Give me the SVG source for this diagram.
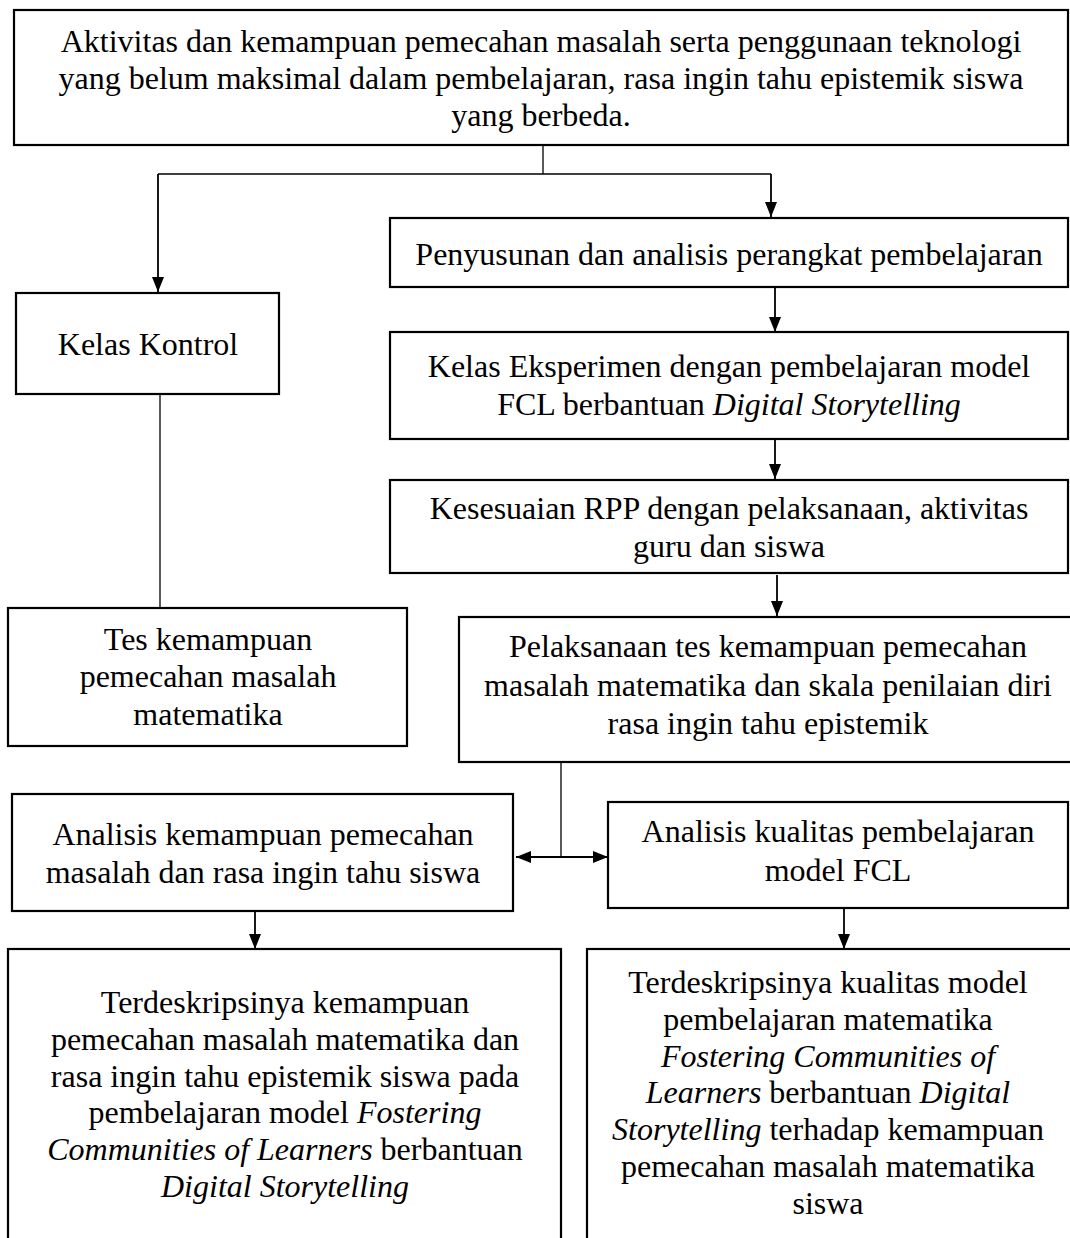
<svg xmlns="http://www.w3.org/2000/svg" width="1070" height="1238" viewBox="0 0 1070 1238">
<style>
.box{fill:#fff;stroke:#000;stroke-width:2.2}
.t{font-family:"Liberation Serif","Times New Roman",serif;font-size:32px;fill:#000;text-anchor:middle}
.i{font-style:italic}
.ln{fill:none;stroke:#000;stroke-width:1.3}
.ar{fill:none;stroke:#000;stroke-width:1.8}
</style>
<defs>
<marker id="ah" markerUnits="userSpaceOnUse" markerWidth="16" markerHeight="12" refX="15" refY="6" orient="auto">
<path d="M0,0 L15,6 L0,12 Z" fill="#000"/>
</marker>
<marker id="ahs" markerUnits="userSpaceOnUse" markerWidth="16" markerHeight="12" refX="0" refY="6" orient="auto">
<path d="M15,0 L0,6 L15,12 Z" fill="#000"/>
</marker>
</defs>

<g id="connectors">
<path class="ln" d="M543,145 V174 M158,174 H771"/>
<path class="ar" d="M158,174 V292" marker-end="url(#ah)"/>
<path class="ar" d="M771,174 V217" marker-end="url(#ah)"/>
<path class="ar" d="M775,288 V332" marker-end="url(#ah)"/>
<path class="ar" d="M775,439 V479" marker-end="url(#ah)"/>
<path class="ar" d="M777,575 V616" marker-end="url(#ah)"/>
<path class="ln" d="M160,394 V607"/>
<path class="ln" d="M561,763 V857"/>
<path class="ar" d="M516,857 H608" stroke-width="2.2" marker-start="url(#ahs)" marker-end="url(#ah)"/>
<path class="ar" d="M255,912 V949" marker-end="url(#ah)"/>
<path class="ar" d="M844,908 V949" marker-end="url(#ah)"/>
</g>

<g id="n-problem">
<rect class="box" x="14" y="10" width="1054" height="135"/>
<text class="t" x="541" y="52">Aktivitas dan kemampuan pemecahan masalah serta penggunaan teknologi</text>
<text class="t" x="541" y="89">yang belum maksimal dalam pembelajaran, rasa ingin tahu epistemik siswa</text>
<text class="t" x="541" y="126">yang berbeda.</text>
</g>

<g id="n-penyusunan">
<rect class="box" x="390" y="218" width="678" height="69"/>
<text class="t" x="729" y="265">Penyusunan dan analisis perangkat pembelajaran</text>
</g>

<g id="n-kontrol">
<rect class="box" x="16" y="293" width="263" height="101"/>
<text class="t" x="148" y="355">Kelas Kontrol</text>
</g>

<g id="n-eksperimen">
<rect class="box" x="390" y="332" width="678" height="107"/>
<text class="t" x="729" y="377">Kelas Eksperimen dengan pembelajaran model</text>
<text class="t" x="729" y="415">FCL berbantuan <tspan class="i">Digital Storytelling</tspan></text>
</g>

<g id="n-kesesuaian">
<rect class="box" x="390" y="480" width="678" height="93"/>
<text class="t" x="729" y="519">Kesesuaian RPP dengan pelaksanaan, aktivitas</text>
<text class="t" x="729" y="557">guru dan siswa</text>
</g>

<g id="n-tes">
<rect class="box" x="8" y="608" width="399" height="138"/>
<text class="t" x="208" y="650">Tes kemampuan</text>
<text class="t" x="208" y="687">pemecahan masalah</text>
<text class="t" x="208" y="725">matematika</text>
</g>

<g id="n-pelaksanaan">
<rect class="box" x="459" y="617" width="620" height="145"/>
<text class="t" x="768" y="657">Pelaksanaan tes kemampuan pemecahan</text>
<text class="t" x="768" y="696">masalah matematika dan skala penilaian diri</text>
<text class="t" x="768" y="734">rasa ingin tahu epistemik</text>
</g>

<g id="n-analisis-kemampuan">
<rect class="box" x="12" y="794" width="501" height="117"/>
<text class="t" x="263" y="845">Analisis kemampuan pemecahan</text>
<text class="t" x="263" y="883">masalah dan rasa ingin tahu siswa</text>
</g>

<g id="n-analisis-kualitas">
<rect class="box" x="608" y="802" width="460" height="106"/>
<text class="t" x="838" y="842">Analisis kualitas pembelajaran</text>
<text class="t" x="838" y="881">model FCL</text>
</g>

<g id="n-hasil-kemampuan">
<rect class="box" x="8" y="949" width="553" height="310"/>
<text class="t" x="285" y="1013">Terdeskripsinya kemampuan</text>
<text class="t" x="285" y="1050">pemecahan masalah matematika dan</text>
<text class="t" x="285" y="1087">rasa ingin tahu epistemik siswa pada</text>
<text class="t" x="285" y="1123">pembelajaran model <tspan class="i">Fostering</tspan></text>
<text class="t" x="285" y="1160"><tspan class="i">Communities of Learners</tspan> berbantuan</text>
<text class="t" x="285" y="1197"><tspan class="i">Digital Storytelling</tspan></text>
</g>

<g id="n-hasil-kualitas">
<rect class="box" x="587" y="949" width="495" height="310"/>
<text class="t" x="828" y="993">Terdeskripsinya kualitas model</text>
<text class="t" x="828" y="1030">pembelajaran matematika</text>
<text class="t" x="828" y="1067"><tspan class="i">Fostering Communities of</tspan></text>
<text class="t" x="828" y="1103"><tspan class="i">Learners</tspan> berbantuan <tspan class="i">Digital</tspan></text>
<text class="t" x="828" y="1140"><tspan class="i">Storytelling</tspan> terhadap kemampuan</text>
<text class="t" x="828" y="1177">pemecahan masalah matematika</text>
<text class="t" x="828" y="1214">siswa</text>
</g>
</svg>
